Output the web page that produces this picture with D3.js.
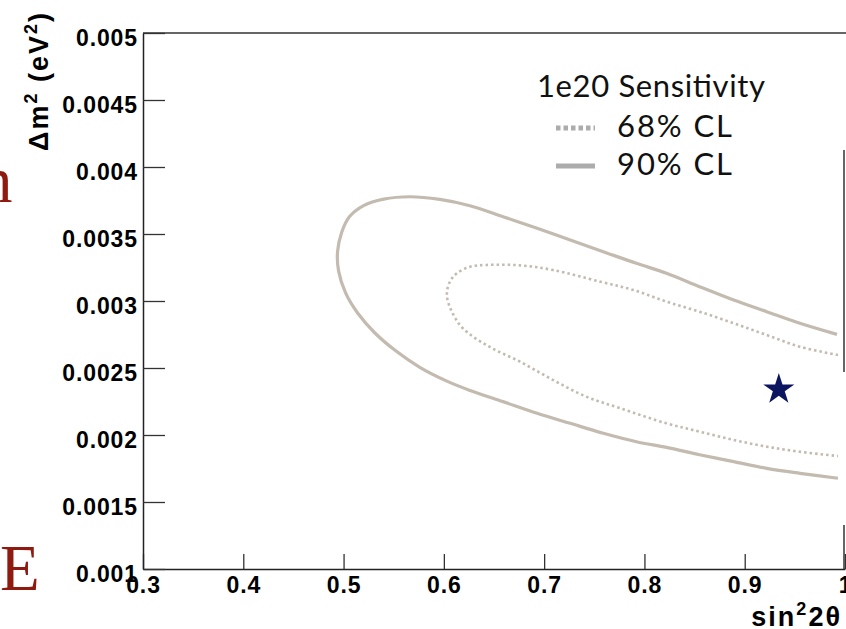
<!DOCTYPE html>
<html>
<head>
<meta charset="utf-8">
<script src="https://cdn.jsdelivr.net/npm/d3@7"></script>
<style>
  html, body { margin: 0; padding: 0; background: #fff; overflow: hidden; }
  svg { display: block; }
  .tick text { font-family: "Liberation Sans", Arial, sans-serif; font-weight: bold; font-size: 23px; fill: #000; letter-spacing: 0.9px; }
</style>
</head>
<body>
<svg id="chart" width="846" height="629"></svg>
<script>
// Oscillation sensitivity contours (sin^2 2theta vs delta m^2)
const xMajor = [0.3, 0.4, 0.5, 0.6, 0.7, 0.8, 0.9, 1.0];
const xMajorLabels = ["0.3", "0.4", "0.5", "0.6", "0.7", "0.8", "0.9", "1"];
const yMajor = [0.001, 0.0015, 0.002, 0.0025, 0.003, 0.0035, 0.004, 0.0045, 0.005];
const yMajorLabels = ["0.001", "0.0015", "0.002", "0.0025", "0.003", "0.0035", "0.004", "0.0045", "0.005"];

// 90% CL contour: upper branch from the right, around the left end, lower branch back to the right
const contour90 = [
  [0.992, 0.002751], [0.955, 0.002834], [0.922, 0.002920], [0.889, 0.003007], [0.855, 0.003107],
  [0.822, 0.003207], [0.792, 0.003281], [0.759, 0.003368], [0.726, 0.003455], [0.693, 0.003543],
  [0.659, 0.003629], [0.626, 0.003711], [0.596, 0.003758], [0.566, 0.003778], [0.540, 0.003760],
  [0.520, 0.003712], [0.506, 0.003630], [0.498, 0.003510], [0.494, 0.003368], [0.495, 0.003225],
  [0.502, 0.003060], [0.514, 0.002910], [0.531, 0.002763], [0.552, 0.002628], [0.576, 0.002505],
  [0.603, 0.002402], [0.626, 0.002333], [0.659, 0.002249], [0.693, 0.002162], [0.726, 0.002087],
  [0.759, 0.002013], [0.792, 0.001950], [0.822, 0.001908], [0.855, 0.001853], [0.889, 0.001801],
  [0.922, 0.001751], [0.955, 0.001714], [0.993, 0.001677]
];

// 68% CL contour
const contour68 = [
  [0.993, 0.002597], [0.955, 0.002659], [0.922, 0.002746], [0.889, 0.002834], [0.855, 0.002920],
  [0.822, 0.002995], [0.789, 0.003082], [0.756, 0.003144], [0.709, 0.003231], [0.676, 0.003266],
  [0.643, 0.003269], [0.626, 0.003256], [0.613, 0.003207], [0.606, 0.003144], [0.603, 0.003045],
  [0.608, 0.002920], [0.619, 0.002796], [0.644, 0.002664], [0.676, 0.002547], [0.709, 0.002410],
  [0.742, 0.002286], [0.776, 0.002199], [0.822, 0.002087], [0.855, 0.002025], [0.889, 0.001963],
  [0.922, 0.001913], [0.955, 0.001875], [0.993, 0.001843]
];

// best-fit point
const bestFit = [0.934, 0.00234];

const legendTitle = "1e20 Sensitivity";
const legendLabels = ["68% CL", "90% CL"];

const svg = d3.select("#chart");
svg.append("rect").attr("width", 846).attr("height", 629).attr("fill", "#fff");

// slide text fragments in the margin
const serif = "'Liberation Serif', 'Times New Roman', serif";
svg.append("text").attr("x", -20).attr("y", 202).attr("font-family", serif)
  .attr("font-size", 65).attr("fill", "#8f1b10").text("n");
svg.append("text").attr("x", 0).attr("y", 590).attr("font-family", serif)
  .attr("font-size", 65).attr("fill", "#8f1b10").text("E");

const x = d3.scaleLinear().domain([0.3, 1.0]).range([143, 845]);
const y = d3.scaleLinear().domain([0.001, 0.005]).range([569, 33]);

// frame top and partial right edge
svg.append("line").attr("x1", x(0.3)).attr("x2", 846).attr("y1", y(0.005)).attr("y2", y(0.005))
  .attr("stroke", "#333").attr("stroke-width", 1.5);
svg.append("line").attr("x1", 844).attr("x2", 844).attr("y1", 150).attr("y2", 372)
  .attr("stroke", "#666").attr("stroke-width", 2);
svg.append("line").attr("x1", 844).attr("x2", 844).attr("y1", 525).attr("y2", 569)
  .attr("stroke", "#666").attr("stroke-width", 2);

const xMinor = d3.range(0.30, 1.0001, 0.02).map(v => +v.toFixed(2)).filter(v => !xMajor.some(m => Math.abs(m - v) < 1e-9));
const yMinor = d3.range(0.0010, 0.00500001, 0.0001).map(v => +v.toFixed(4)).filter(v => !yMajor.some(m => Math.abs(m - v) < 1e-12));

// x axis
const gx = svg.append("g").attr("transform", `translate(0,${y(0.001)})`);
gx.call(d3.axisBottom(x).tickValues(xMinor).tickFormat("").tickSize(-7.5).tickSizeOuter(0));
gx.call(d3.axisBottom(x).tickValues(xMajor).tickFormat((d, i) => xMajorLabels[i]).tickSize(-15).tickSizeOuter(0).tickPadding(8));
gx.selectAll("line").attr("stroke", "#333").attr("stroke-width", 1.3);
gx.selectAll(".domain").attr("stroke", "#222").attr("stroke-width", 1.5);
gx.attr("font-family", null).attr("font-size", null);

// y axis
const gy = svg.append("g").attr("transform", `translate(${x(0.3)},0)`);
gy.call(d3.axisLeft(y).tickValues(yMinor).tickFormat("").tickSize(-11).tickSizeOuter(0));
gy.call(d3.axisLeft(y).tickValues(yMajor).tickFormat((d, i) => yMajorLabels[i]).tickSize(-22).tickSizeOuter(0).tickPadding(5));
gy.selectAll("line").attr("stroke", "#333").attr("stroke-width", 1.3);
gy.selectAll(".domain").attr("stroke", "#222").attr("stroke-width", 1.5);
gy.selectAll("text").attr("dy", "0.53em");
gy.attr("font-family", null).attr("font-size", null);

// axis titles
const bold = "'Liberation Sans', Arial, sans-serif";
const xt = svg.append("text").attr("x", 842).attr("y", 626).attr("text-anchor", "end")
  .attr("font-family", bold).attr("font-weight", "bold").attr("font-size", 27).attr("letter-spacing", 2);
xt.append("tspan").text("sin");
xt.append("tspan").attr("font-size", 18).attr("dy", -11).text("2");
xt.append("tspan").attr("dy", 11).text("2θ");

const yt = svg.append("text").attr("transform", "translate(48,11) rotate(-90)").attr("text-anchor", "end")
  .attr("font-family", bold).attr("font-weight", "bold").attr("font-size", 27).attr("letter-spacing", 2);
yt.append("tspan").text("Δm");
yt.append("tspan").attr("font-size", 18).attr("dy", -11).text("2");
yt.append("tspan").attr("dy", 11).text(" (eV");
yt.append("tspan").attr("font-size", 18).attr("dy", -11).text("2");
yt.append("tspan").attr("dy", 11).text(")");

// contours
const line = d3.line().x(d => x(d[0])).y(d => y(d[1])).curve(d3.curveCatmullRom.alpha(0.5));
svg.append("path").attr("d", line(contour90)).attr("fill", "none")
  .attr("stroke", "#c3bab0").attr("stroke-width", 3.2).attr("stroke-linejoin", "round");
svg.append("path").attr("d", line(contour68)).attr("fill", "none")
  .attr("stroke", "#c3bab0").attr("stroke-width", 2.6).attr("stroke-dasharray", "2.5,3");

// best-fit star
svg.append("path").attr("d", d3.symbol(d3.symbolStar, 300)())
  .attr("transform", `translate(${x(bestFit[0])},${y(bestFit[1])})`).attr("fill", "#0c1560");

// legend
const sans = "Lato, 'Open Sans', sans-serif";
svg.append("text").attr("x", 537).attr("y", 97).attr("font-family", sans).attr("font-size", 31)
  .attr("fill", "#111").attr("textLength", 228).attr("lengthAdjust", "spacing").text(legendTitle);
const legY = [128, 166];
const legDash = ["4.5,3", null];
legendLabels.forEach((lab, i) => {
  svg.append("line").attr("x1", 556).attr("x2", 595).attr("y1", legY[i]).attr("y2", legY[i])
    .attr("stroke", "#acacac").attr("stroke-width", 5).attr("stroke-dasharray", legDash[i]);
  svg.append("text").attr("x", 617).attr("y", legY[i] + 9).attr("font-family", sans).attr("font-size", 31)
    .attr("fill", "#111").attr("textLength", 115).attr("lengthAdjust", "spacing").text(lab);
});
</script>
</body>
</html>
